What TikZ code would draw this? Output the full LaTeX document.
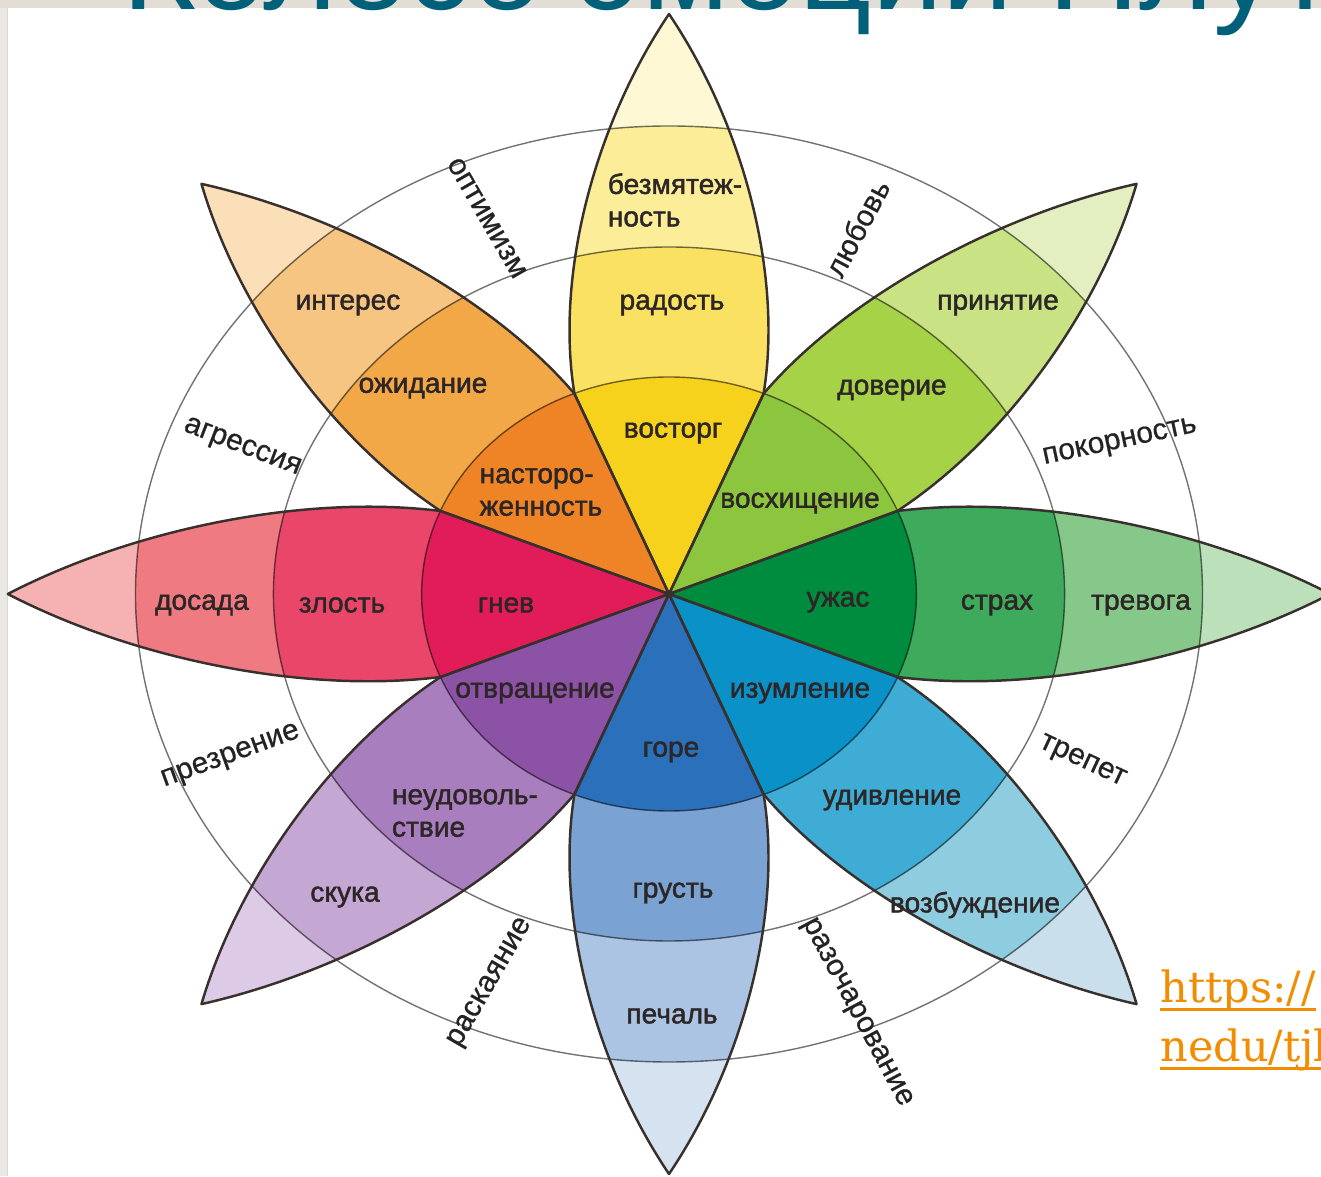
\documentclass[tikz,border=0pt]{standalone}
\usepackage{fontspec}
\setmainfont{Liberation Sans}
\newfontfamily\emofont[RawFeature={embolden=1.6}]{Liberation Sans}
\newfontfamily\dyadfont[RawFeature={embolden=0.6}]{Liberation Sans}
\newfontfamily\urlfont{DejaVu Serif}

\definecolor{yelA}{RGB}{246,210,28}
\definecolor{yelB}{RGB}{250,225,98}
\definecolor{yelC}{RGB}{252,237,152}
\definecolor{yelD}{RGB}{254,248,212}
\definecolor{oraA}{RGB}{239,132,38}
\definecolor{oraB}{RGB}{243,168,72}
\definecolor{oraC}{RGB}{247,197,130}
\definecolor{oraD}{RGB}{251,223,184}
\definecolor{redA}{RGB}{225,28,88}
\definecolor{redB}{RGB}{233,70,106}
\definecolor{redC}{RGB}{239,122,130}
\definecolor{redD}{RGB}{246,178,178}
\definecolor{vioA}{RGB}{140,82,166}
\definecolor{vioB}{RGB}{168,126,190}
\definecolor{vioC}{RGB}{197,167,212}
\definecolor{vioD}{RGB}{221,202,231}
\definecolor{bluA}{RGB}{42,112,186}
\definecolor{bluB}{RGB}{122,163,212}
\definecolor{bluC}{RGB}{172,196,228}
\definecolor{bluD}{RGB}{213,226,240}
\definecolor{cyaA}{RGB}{10,145,200}
\definecolor{cyaB}{RGB}{62,172,212}
\definecolor{cyaC}{RGB}{142,204,224}
\definecolor{cyaD}{RGB}{201,224,236}
\definecolor{grnA}{RGB}{0,140,62}
\definecolor{grnB}{RGB}{62,170,92}
\definecolor{grnC}{RGB}{134,200,138}
\definecolor{grnD}{RGB}{188,224,186}
\definecolor{lgrA}{RGB}{140,198,63}
\definecolor{lgrB}{RGB}{166,210,72}
\definecolor{lgrC}{RGB}{200,226,132}
\definecolor{lgrD}{RGB}{227,239,192}
\definecolor{petaledge}{RGB}{55,48,45}
\definecolor{labeltext}{RGB}{45,38,38}
\definecolor{dyadtext}{RGB}{35,35,35}
\definecolor{titleteal}{RGB}{0,96,122}
\definecolor{linkorange}{RGB}{242,140,0}
\definecolor{topband}{RGB}{226,222,214}
\definecolor{pagestripe}{RGB}{234,232,226}

% one petal along the x axis, tip at 580
\newcommand{\petalpath}{(0,0) -- (200.5,83) .. controls (320,100) and (470,65) .. (580,0)
  .. controls (470,-65) and (320,-100) .. (200.5,-83) -- cycle}
% thick underline for the link text
\newcommand{\ulink}[1]{\setbox0\hbox{#1}\rlap{\rule[-4.5pt]{\wd0}{1.6pt}}\box0}

\begin{document}
\begin{tikzpicture}[x=0.02cm, y=0.02cm,
  petal/.style={draw=petaledge, line width=1.4pt, line join=round},
  ring/.style={draw=black, line width=0.8pt, opacity=0.55},
  emo/.style={font=\emofont\fontsize{16}{18.5}\selectfont, text=labeltext, inner sep=0pt, align=left},
  dyad/.style={font=\dyadfont\fontsize{17}{20}\selectfont, text=dyadtext, inner sep=0pt},
  title/.style={font=\fontsize{72}{72}\selectfont, text=titleteal, inner sep=0pt},
  link/.style={font=\urlfont\fontsize{24.5}{28}\selectfont, text=linkorange, inner sep=0pt}
]
\useasboundingbox (0,0) rectangle (1321,1176);
\clip (0,0) rectangle (1321,1176);
\fill[white] (0,0) rectangle (1321,1176);
\fill[pagestripe] (0,0) rectangle (7,1176);
\draw[black!15] (7,0) -- (7,1168);
\fill[topband] (0,1168) rectangle (1321,1176);

\node[title, anchor=base west] (title) at (122,1166) {Колесо эмоций Плутчика};

% wheel
\begin{scope}[shift={(669,582)}, xscale=1.14]
  \foreach \ang/\hue in {90/yel,135/ora,180/red,225/vio,270/blu,315/cya,0/grn,45/lgr}{
    \begin{scope}[rotate=\ang]
      \clip \petalpath;
      \fill[fill=\hue D] (0,0) circle (600);
      \fill[fill=\hue C] (0,0) circle (468);
      \fill[fill=\hue B] (0,0) circle (347);
      \fill[fill=\hue A] (0,0) circle (217);
    \end{scope}
  }
  \draw[ring] (0,0) circle (217);
  \draw[ring] (0,0) circle (347);
  \draw[ring] (0,0) circle (468);
  \foreach \ang in {0,45,...,315}
    \draw[petal, rotate=\ang] \petalpath;
\end{scope}

% primary emotions
\node[emo] (serenity) at (675,976) {безмятеж-\\ность};
\node[emo] (joy) at (672,871) {радость};
\node[emo] (ecstasy) at (673,743) {восторг};
\node[emo] (interest) at (348,871) {интерес};
\node[emo] (anticip) at (423,788) {ожидание};
\node[emo] (vigil) at (541,684) {насторо-\\женность};
\node[emo] (accept) at (998,871) {принятие};
\node[emo] (trust) at (892,786) {доверие};
\node[emo] (admir) at (800,673) {восхищение};
\node[emo] (annoy) at (202,571) {досада};
\node[emo] (anger) at (342,571) {злость};
\node[emo] (rage) at (506,571) {гнев};
\node[emo] (terror) at (838,574) {ужас};
\node[emo] (fear) at (997,571) {страх};
\node[emo] (apprehen) at (1141,571) {тревога};
\node[emo] (loathing) at (535,483) {отвращение};
\node[emo] (grief) at (671,424) {горе};
\node[emo] (amaze) at (800,483) {изумление};
\node[emo] (disgust) at (465,363) {неудоволь-\\ствие};
\node[emo] (boredom) at (345,279) {скука};
\node[emo] (sadness) at (673,283) {грусть};
\node[emo] (pensive) at (672,160) {печаль};
\node[emo] (surprise) at (892,376) {удивление};
\node[emo] (distract) at (975,271) {возбуждение};

% dyads between petals
\node[dyad, rotate=-60] (optimism) at (487,958) {оптимизм};
\node[dyad, rotate=62] (love) at (857,948) {любовь};
\node[dyad, rotate=-21] (aggress) at (242,728) {агрессия};
\node[dyad, rotate=12] (submiss) at (1120,733) {покорность};
\node[dyad, rotate=20] (contempt) at (231,419) {презрение};
\node[dyad, rotate=-25] (awe) at (1082,414) {трепет};
\node[dyad, rotate=60] (remorse) at (491,193) {раскаяние};
\node[dyad, rotate=-62] (disappr) at (856,163) {разочарование};

% source link
\node[link, anchor=base west] (linkA) at (1160,173) {\ulink{https://}};
\node[link, anchor=base west] (linkB) at (1160,114) {\ulink{nedu/tjl}};
\end{tikzpicture}
\end{document}
